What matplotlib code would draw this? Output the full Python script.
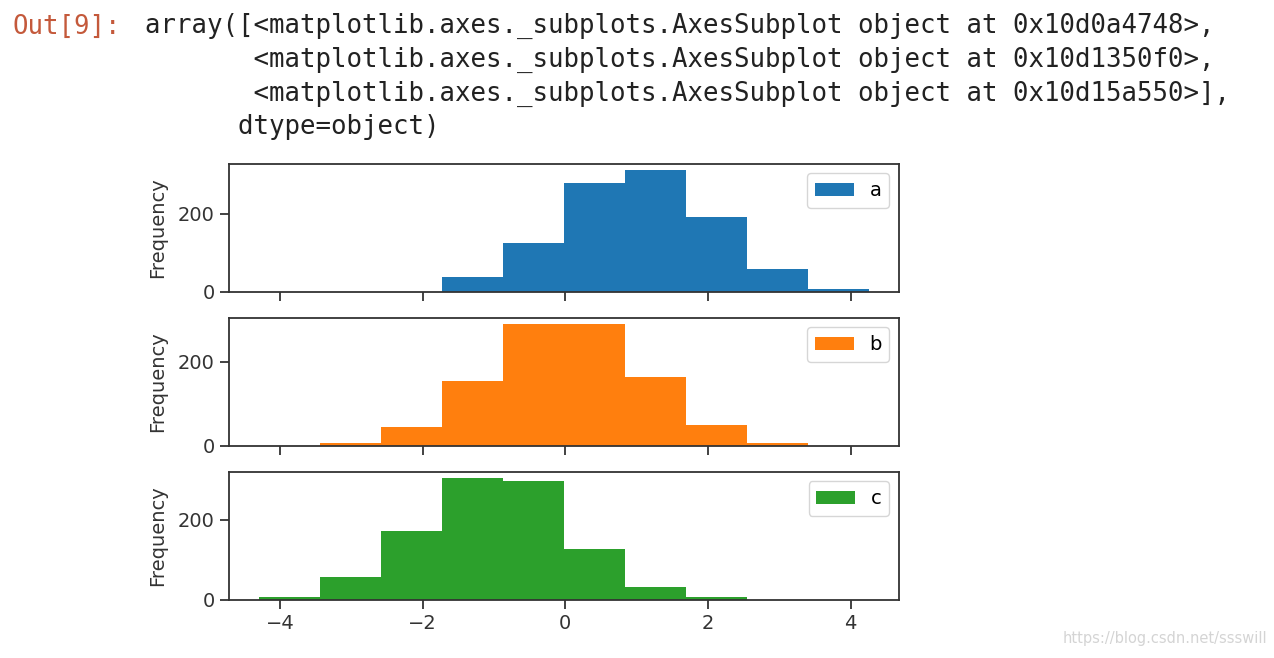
import numpy as np
import matplotlib.pyplot as plt

# bornes des classes (communes aux trois colonnes)
bords = [-4.29, -3.436, -2.582, -1.728, -0.874, -0.02, 0.834, 1.688, 2.542, 3.396, 4.25]

# effectifs
freq_a = [0, 0, 0, 37, 124, 278, 312, 192, 58, 6]
freq_b = [0, 6, 45, 154, 291, 291, 164, 49, 6, 0]
freq_c = [7, 57, 172, 305, 297, 127, 32, 7, 0, 0]

noms = ['a', 'b', 'c']
couleurs = ['#1f77b4', '#ff7f0e', '#2ca02c']
series = [freq_a, freq_b, freq_c]
yticks = [0, 200]

sortie = ("array([<matplotlib.axes._subplots.AxesSubplot object at 0x10d0a4748>,\n"
          "       <matplotlib.axes._subplots.AxesSubplot object at 0x10d1350f0>,\n"
          "       <matplotlib.axes._subplots.AxesSubplot object at 0x10d15a550>],\n"
          "      dtype=object)")

fig = plt.figure(figsize=(12.74, 6.58), dpi=100)

# texte de la cellule Jupyter
fig.text(13 / 1274, 1 - 27 / 658, "Out[9]:", family='DejaVu Sans Mono', fontsize=18.5,
         color='#c4593b', va='center', ha='left')
fig.text(145 / 1274, 1 - 13 / 658, sortie, family='DejaVu Sans Mono', fontsize=18.5,
         color='#222222', va='top', ha='left', linespacing=1.38)

gauche = 228.7 / 1274
largeur = (899 - 228.7) / 1274
hauteur = 128 / 658
bas = [1 - 291.7 / 658, 1 - 445.7 / 658, 1 - 599.7 / 658]

axes = []
for i in range(3):
    if i == 0:
        ax = fig.add_axes([gauche, bas[i], largeur, hauteur])
    else:
        ax = fig.add_axes([gauche, bas[i], largeur, hauteur], sharex=axes[0])
    axes.append(ax)
    ax.hist(bords[:-1], bins=bords, weights=series[i], color=couleurs[i], label=noms[i])
    ax.set_yticks(yticks)
    ax.set_ylabel('Frequency', fontsize=14, color='#333333', labelpad=8)
    ax.tick_params(labelsize=14, length=6.5, width=1.3, colors='#333333')
    for sp in ax.spines.values():
        sp.set_linewidth(1.3)
        sp.set_color('#333333')
    ax.legend(loc='upper right', fontsize=14)
    if i < 2:
        ax.tick_params(labelbottom=False)

axes[0].set_xticks([-4, -2, 0, 2, 4])

# filigrane
fig.text(1267 / 1274, 1 - 638 / 658, "https://blog.csdn.net/ssswill",
         family='DejaVu Sans', fontsize=10.5,
         color='#d4d4d4', ha='right', va='center')

plt.savefig('out.png', dpi=100)
